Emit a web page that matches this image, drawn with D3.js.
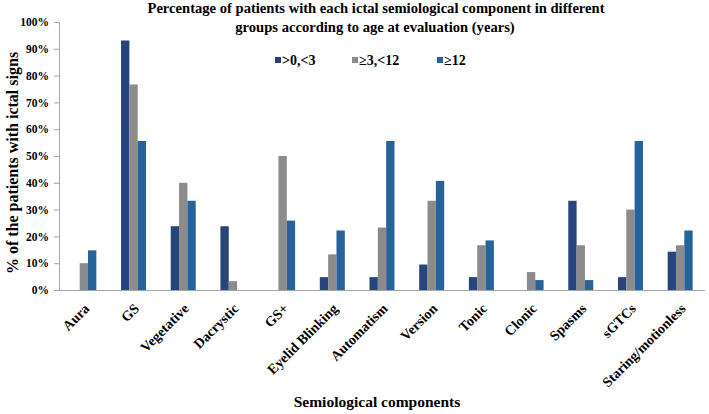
<!DOCTYPE html>
<html><head><meta charset="utf-8">
<script src="https://cdn.jsdelivr.net/npm/d3@7"></script>
<style>body{margin:0;background:#fff}svg{display:block}text{font-family:"Liberation Serif","Times New Roman",serif;font-weight:bold;fill:#000}</style>
</head><body><svg id="c" width="709" height="414"></svg>
<script>
const categories = ["Aura","GS","Vegetative","Dacrystic","GS+","Eyelid Blinking","Automatism","Version","Tonic","Clonic","Spasms","sGTCs","Staring/motionless"];
const seriesNames = [">0,<3","\u22653,<12","\u226512"];
const group1 = [0,93.1,23.8,23.8,0,4.8,4.8,9.5,4.8,0,33.3,4.8,14.3];
const group2 = [10,76.7,40,3.3,50,13.3,23.3,33.3,16.7,6.7,16.7,30,16.7];
const group3 = [14.8,55.6,33.3,0,25.9,22.2,55.6,40.7,18.5,3.7,3.7,55.6,22.2];
const yTicks = [0,10,20,30,40,50,60,70,80,90,100];
const colors = ["#27457a","#8b8b8b","#28629a"];

const FF = "Liberation Serif, Times New Roman, serif";
const svg = d3.select("#c");
const L=59,R=705,T=22,B=290;
const x0 = d3.scaleBand().domain(categories).range([L,R]).paddingInner(0.497).paddingOuter(0.2485);
const x1 = d3.scaleBand().domain([0,1,2]).range([0,x0.bandwidth()]);
const y = d3.scaleLinear().domain([0,100]).range([B,T]);
const series=[group1,group2,group3];

const g = svg.append("g");
categories.forEach((c,i)=>{
  series.forEach((s,k)=>{
    if(s[i]>0) g.append("rect").attr("x",x0(c)+x1(k)).attr("y",y(s[i])).attr("width",x1.bandwidth()).attr("height",B-y(s[i])).attr("fill",colors[k]);
  });
});

const ya = svg.append("g").attr("transform",`translate(${L},0)`).call(d3.axisLeft(y).tickValues(yTicks).tickFormat(d=>d+"%").tickSize(5).tickPadding(5));
ya.attr("font-family",FF).attr("font-weight","bold").attr("font-size",11.5);
ya.select(".domain").attr("stroke","#a6a6a6");
ya.selectAll(".tick line").attr("stroke","#a6a6a6");
ya.selectAll("text").attr("fill","#000");

const xa = svg.append("g").attr("transform",`translate(0,${B})`).call(d3.axisBottom(x0).tickSize(0).tickPadding(0));
xa.attr("font-family",FF).attr("font-weight","bold").attr("font-size",14);
xa.select(".domain").attr("stroke","#a6a6a6").attr("d",`M${L},0.5H${R}`);
xa.selectAll("text").attr("fill","#000")
  .attr("text-anchor","end").attr("dy","0.35em").attr("transform","translate(3,16) rotate(-45)");

svg.append("text").attr("x",376).attr("y",13).attr("text-anchor","middle").style("font-size","14.6px").text("Percentage of patients with each ictal semiological component in different");
svg.append("text").attr("x",375).attr("y",32).attr("text-anchor","middle").style("font-size","14.6px").text("groups according to age at evaluation (years)");

svg.append("text").attr("transform","translate(18,163) rotate(-90)").attr("text-anchor","middle").style("font-size","16px").text("% of the patients with ictal signs");
svg.append("text").attr("x",377).attr("y",407).attr("text-anchor","middle").style("font-size","15.5px").text("Semiological components");

const legX=[275,352,437];
seriesNames.forEach((n,k)=>{
  svg.append("rect").attr("x",legX[k]).attr("y",57).attr("width",6).attr("height",6).attr("fill",colors[k]);
  svg.append("text").attr("x",legX[k]+7).attr("y",65).style("font-size","14px").text(n);
});
</script></body></html>
